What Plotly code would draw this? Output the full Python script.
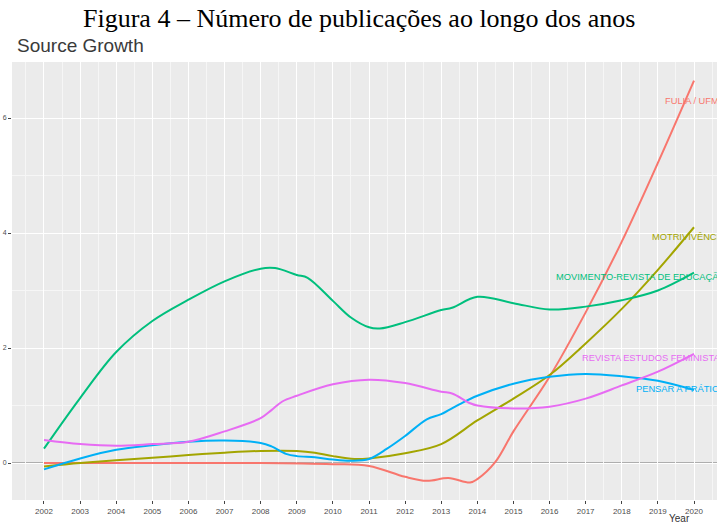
import plotly.graph_objects as go

# ---- data ----
fulia_x = [2002, 2004, 2006, 2008, 2010, 2011, 2012, 2012.6, 2013.2, 2013.8, 2014, 2014.5, 2015, 2016, 2017, 2018, 2019, 2020]
fulia_y = [0.0, 0.0, 0.0, 0.0, -0.02, -0.05, -0.24, -0.31, -0.26, -0.34, -0.28, 0.02, 0.55, 1.5, 2.62, 3.85, 5.22, 6.65]

motri_x = [2002, 2003, 2004, 2005, 2006, 2007, 2008, 2009, 2009.5, 2010, 2010.6, 2011, 2012, 2013, 2014, 2015, 2016, 2017, 2018, 2019, 2020]
motri_y = [-0.06, 0.0, 0.05, 0.09, 0.14, 0.18, 0.21, 0.21, 0.18, 0.12, 0.07, 0.08, 0.17, 0.33, 0.74, 1.12, 1.53, 2.08, 2.68, 3.36, 4.1]

movi_x = [2002, 2003, 2004, 2005, 2006, 2007, 2008, 2008.4, 2009, 2009.3, 2010, 2010.5, 2011, 2011.3, 2012, 2013, 2013.3, 2014, 2015, 2016, 2017, 2018, 2019, 2020]
movi_y = [0.25, 1.13, 1.93, 2.47, 2.84, 3.16, 3.38, 3.39, 3.27, 3.22, 2.82, 2.53, 2.36, 2.34, 2.45, 2.66, 2.7, 2.89, 2.78, 2.67, 2.72, 2.83, 3.0, 3.31]

pensar_x = [2002, 2003, 2004, 2005, 2006, 2007, 2008, 2008.3, 2008.7, 2009, 2009.5, 2010, 2010.5, 2011, 2011.5, 2012, 2012.6, 2013, 2013.5, 2014, 2015, 2016, 2017, 2018, 2019, 2020]
pensar_y = [-0.11, 0.08, 0.23, 0.31, 0.37, 0.39, 0.35, 0.29, 0.16, 0.12, 0.10, 0.06, 0.04, 0.07, 0.25, 0.47, 0.76, 0.85, 1.02, 1.17, 1.38, 1.5, 1.55, 1.51, 1.43, 1.27]

ref_x = [2002, 2003, 2004, 2005, 2006, 2007, 2008, 2008.3, 2008.6, 2009, 2010, 2011, 2012, 2013, 2013.3, 2013.8, 2014, 2015, 2016, 2017, 2018, 2019, 2020]
ref_y = [0.40, 0.33, 0.30, 0.33, 0.37, 0.55, 0.78, 0.92, 1.07, 1.17, 1.37, 1.45, 1.39, 1.24, 1.21, 1.04, 1.0, 0.95, 0.98, 1.12, 1.35, 1.59, 1.9]

series_names = ["FULIA / UFMG", "MOTRIVIVÊNCIA", "MOVIMENTO-REVISTA DE EDUCAÇÃO",
                "PENSAR A PRÁTICA", "REVISTA ESTUDOS FEMINISTAS"]
series_colors = ["#F8766D", "#A3A500", "#00BF7D", "#00B0F6", "#E76BF3"]
label_y = [6.30, 3.93, 3.23, 1.29, 1.83]

year_ticks = list(range(2002, 2021))
y_ticks = [0, 2, 4, 6]

xs = [fulia_x, motri_x, movi_x, pensar_x, ref_x]
ys = [fulia_y, motri_y, movi_y, pensar_y, ref_y]

fig = go.Figure()

# zero reference line
fig.add_shape(type="line", xref="paper", x0=0, x1=1, yref="y", y0=0, y1=0,
              line=dict(color="#9a9a9a", width=1.5), layer="below")

for name, color, x, y in zip(series_names, series_colors, xs, ys):
    fig.add_trace(go.Scatter(x=x, y=y, mode="lines", name=name,
                             line=dict(color=color, width=2, shape="spline", smoothing=1.0),
                             showlegend=False, hoverinfo="skip"))

annotations = []
for name, color, ly in zip(series_names, series_colors, label_y):
    annotations.append(dict(x=2020, y=ly, xref="x", yref="y", text=name, showarrow=False,
                            xanchor="right", yanchor="middle", xshift=34,
                            font=dict(family="Liberation Sans, Arial, sans-serif", size=9.3, color=color)))

annotations.append(dict(x=0.4915, y=1.0998, xref="paper", yref="paper",
                        text="Figura 4 – Número de publicações ao longo dos anos", showarrow=False,
                        xanchor="center", yanchor="middle",
                        font=dict(family="Liberation Serif, Times New Roman, serif", size=26, color="#000000")))
annotations.append(dict(x=0.004, y=1.037, xref="paper", yref="paper",
                        text="Source Growth", showarrow=False, xanchor="left", yanchor="middle",
                        font=dict(family="Liberation Sans, Arial, sans-serif", size=19, color="#3a3a3a")))
annotations.append(dict(x=2020, y=-0.043, xref="x", yref="paper", text="Year", showarrow=False,
                        xanchor="right", yanchor="middle", xshift=-2,
                        font=dict(family="Liberation Sans, Arial, sans-serif", size=10, color="#333333")))

fig.update_layout(
    width=717, height=524,
    margin=dict(l=12, r=0, t=62, b=24, autoexpand=False),
    paper_bgcolor="white",
    plot_bgcolor="#EBEBEB",
    annotations=annotations,
    xaxis=dict(range=[2001.114, 2020.637], tickmode="array", tickvals=year_ticks,
               ticktext=[str(v) for v in year_ticks], automargin=False,
               showgrid=True, gridcolor="white", gridwidth=1.1,
               minor=dict(dtick=0.5, tick0=2002, showgrid=True, gridcolor="#F6F6F6", gridwidth=0.6),
               ticks="outside", ticklen=3, tickcolor="#444444", tickwidth=1,
               tickfont=dict(family="Liberation Sans, Arial, sans-serif", size=8, color="#4D4D4D"),
               zeroline=False, showline=False, fixedrange=True),
    yaxis=dict(range=[-0.643, 6.974], tickmode="array", tickvals=y_ticks,
               ticktext=[str(v) for v in y_ticks], automargin=False,
               showgrid=True, gridcolor="white", gridwidth=1.1,
               minor=dict(dtick=1, tick0=0, showgrid=True, gridcolor="#F6F6F6", gridwidth=0.6),
               ticks="outside", ticklen=3, tickcolor="#444444", tickwidth=1,
               tickfont=dict(family="Liberation Sans, Arial, sans-serif", size=7, color="#4D4D4D"),
               zeroline=False, showline=False, fixedrange=True),
)

fig.write_html("out.html", config={"displayModeBar": False},
               post_script="document.body.style.margin='0';document.body.style.padding='0';")
